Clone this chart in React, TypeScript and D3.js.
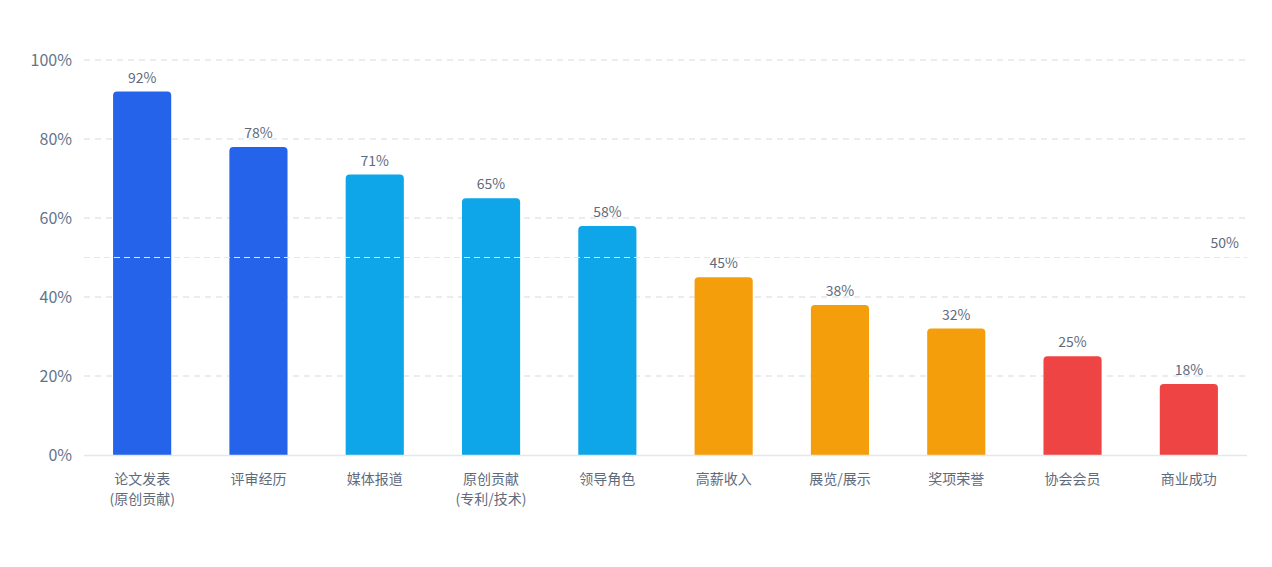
import { useEffect, useRef } from 'react';
import * as d3 from 'd3';

const categories = ['论文发表\n(原创贡献)', '评审经历', '媒体报道', '原创贡献\n(专利/技术)', '领导角色', '高薪收入', '展览/展示', '奖项荣誉', '协会会员', '商业成功'];
const values = [92, 78, 71, 65, 58, 45, 38, 32, 25, 18];
const barColors = ['#2563eb', '#2563eb', '#0ea5e9', '#0ea5e9', '#0ea5e9', '#f59e0b', '#f59e0b', '#f59e0b', '#ef4444', '#ef4444'];
const yTicks = [0, 20, 40, 60, 80, 100];
const markValue = 50;

const W = 1272;
const H = 567;
const font = '"Microsoft YaHei", "Noto Sans CJK SC", "Noto Sans", sans-serif';

export default function App() {
  const svgRef = useRef<SVGSVGElement>(null);

  useEffect(() => {
    if (!svgRef.current) return;
    const svg = d3.select(svgRef.current);
    svg.selectAll('*').remove();

    const left = 84;
    const right = 1247;
    const top = 60;
    const bottom = 455;

    const x = d3.scaleBand<string>().domain(categories).range([left, right]).paddingInner(0).paddingOuter(0);
    const y = d3.scaleLinear().domain([0, 100]).range([bottom, top]);
    const bw = x.bandwidth() * 0.5;

    // grid
    svg
      .append('g')
      .selectAll('line')
      .data(yTicks.filter((t) => t > 0))
      .join('line')
      .attr('x1', left)
      .attr('x2', right)
      .attr('y1', (d) => y(d))
      .attr('y2', (d) => y(d))
      .attr('stroke', '#e2e7ee')
      .attr('stroke-width', 1.4)
      .attr('stroke-dasharray', '6,5');

    svg
      .append('g')
      .selectAll('text')
      .data(yTicks)
      .join('text')
      .attr('x', 72)
      .attr('y', (d) => y(d))
      .attr('dy', '0.35em')
      .attr('text-anchor', 'end')
      .attr('font-family', font)
      .attr('font-size', 16)
      .attr('fill', '#64748b')
      .text((d) => `${d}%`);

    // bars
    const r = 4;
    svg
      .append('g')
      .selectAll('path')
      .data(values)
      .join('path')
      .attr('d', (d, i) => {
        const x0 = (x(categories[i]) as number) + (x.bandwidth() - bw) / 2;
        const x1 = x0 + bw;
        const y0 = y(d);
        return `M${x0},${bottom}V${y0 + r}Q${x0},${y0} ${x0 + r},${y0}H${x1 - r}Q${x1},${y0} ${x1},${y0 + r}V${bottom}Z`;
      })
      .attr('fill', (d, i) => barColors[i]);

    svg
      .append('g')
      .selectAll('text')
      .data(values)
      .join('text')
      .attr('x', (d, i) => (x(categories[i]) as number) + x.bandwidth() / 2)
      .attr('y', (d) => y(d) - 9)
      .attr('text-anchor', 'middle')
      .attr('font-family', font)
      .attr('font-size', 14)
      .attr('fill', '#5f6b7c')
      .text((d) => `${d}%`);

    // axis line
    svg
      .append('line')
      .attr('x1', left)
      .attr('x2', right)
      .attr('y1', bottom + 0.5)
      .attr('y2', bottom + 0.5)
      .attr('stroke', '#e2e8f0')
      .attr('stroke-width', 1.5);

    // x labels
    const xl = svg.append('g');
    categories.forEach((c) => {
      const lines = c.split('\n');
      const t = xl
        .append('text')
        .attr('x', (x(c) as number) + x.bandwidth() / 2)
        .attr('y', 484)
        .attr('text-anchor', 'middle')
        .attr('font-family', font)
        .attr('font-size', 14)
        .attr('fill', '#5f6b7c');
      lines.forEach((l, i) => {
        t.append('tspan')
          .attr('x', (x(c) as number) + x.bandwidth() / 2)
          .attr('dy', i === 0 ? 0 : 20)
          .text(l);
      });
    });

    // mark line
    svg
      .append('line')
      .attr('x1', left)
      .attr('x2', right)
      .attr('y1', y(markValue))
      .attr('y2', y(markValue))
      .attr('stroke', '#e2e8f0')
      .attr('stroke-width', 1.2)
      .attr('stroke-dasharray', '6,4');

    svg
      .append('text')
      .attr('x', 1239)
      .attr('y', y(markValue) - 10)
      .attr('text-anchor', 'end')
      .attr('font-family', font)
      .attr('font-size', 14)
      .attr('fill', '#5f6b7c')
      .text(`${markValue}%`);
  }, []);

  return <svg ref={svgRef} width={W} height={H} style={{ display: 'block', position: 'absolute', left: 0, top: 0 }} />;
}
